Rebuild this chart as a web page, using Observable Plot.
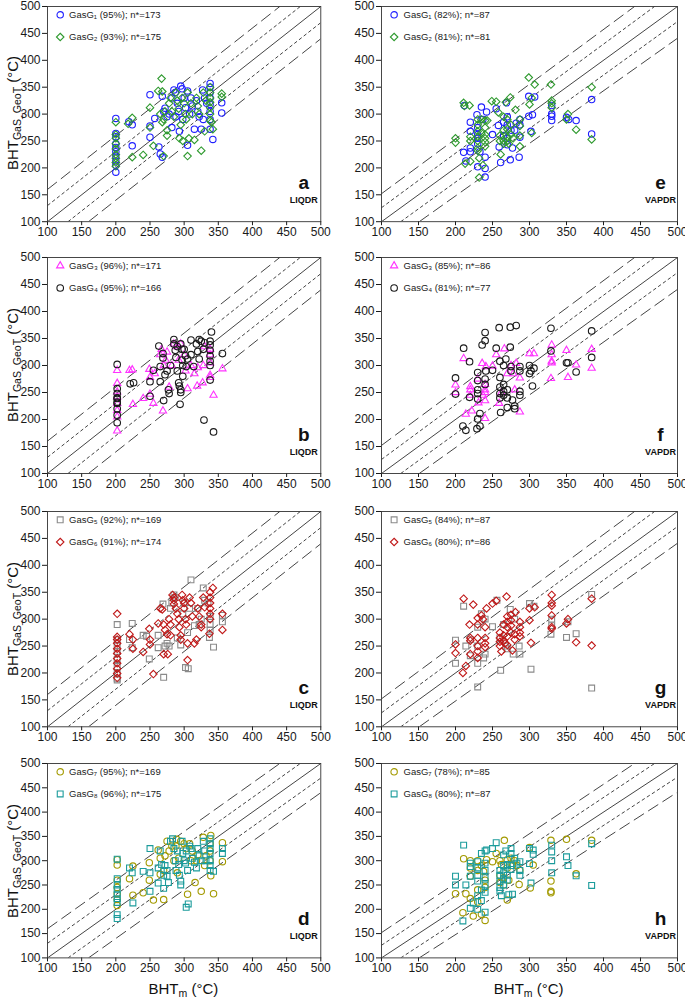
<!DOCTYPE html>
<html><head><meta charset="utf-8">
<script src="https://cdn.jsdelivr.net/npm/d3@7"></script>
<script src="https://cdn.jsdelivr.net/npm/@observablehq/plot@0.6"></script>
<style>
body{margin:0;background:#fff;font-family:"Liberation Sans",Arial,sans-serif;}
#wrap{position:relative;width:685px;height:999px;overflow:hidden;background:#fff;}
#wrap svg{position:absolute;max-width:none;}
.ytitle{position:absolute;white-space:nowrap;font-size:15px;color:#111;transform:translate(-50%,-50%) rotate(-90deg);line-height:16px;}
.xtitle{position:absolute;white-space:nowrap;font-size:15px;color:#111;transform:translateX(-50%);line-height:16px;}
sub{font-size:10.5px;vertical-align:-3px;line-height:0;}
</style></head><body><div id="wrap"></div>
<script>
// ---------- data ----------
const axisTicks = [100,150,200,250,300,350,400,450,500];
const seriesNames = ["GasG₁","GasG₂","GasG₃","GasG₄","GasG₅","GasG₆","GasG₇","GasG₈"];
const liqPct = [95,93,96,95,92,91,95,96];
const liqN   = [173,175,171,166,169,174,169,175];
const vapPct = [82,81,85,81,84,80,78,80];
const vapN   = [87,81,86,77,87,86,85,87];
const panelLetters = [["a","e"],["b","f"],["c","g"],["d","h"]];
const regimes = ["LIQDR","VAPDR"];
// guide lines [x1,y1,x2,y2]
const liqLong  = [[100,160,440,500],[160,100,500,440]];
const liqShort = [[100,130,470,500],[130,100,500,470]];
const vapLong  = [[100,152,442,500],[151,100,500,441]];
const vapShort = [[100,126,469,500],[126,100,500,472]];
const identityLine = [[100,100,500,500]];

const g1Liq = [[200,292],[200,264],[200,258],[200,245],[200,238],[200,230],[200,222],[200,213],[200,205],[200,192],[219,286],[224,280],[224,241],[250,336],[250,278],[250,257],[257,292],[263,239],[265,226],[268,220],[268,333],[272,311],[275,295],[278,300],[282,330],[285,345],[287,340],[290,320],[292,305],[293,268],[295,352],[297,347],[298,290],[300,330],[302,312],[305,343],[305,242],[308,300],[310,330],[312,315],[315,272],[318,325],[320,305],[322,295],[325,272],[327,345],[328,290],[330,330],[333,320],[338,357],[338,350],[338,340],[338,330],[338,318],[338,305],[338,290],[338,272],[342,253],[355,321],[355,302],[282,275],[270,305],[288,295]];
const g2Liq = [[200,285],[200,262],[200,255],[200,245],[200,235],[200,225],[200,218],[200,210],[200,203],[218,282],[224,293],[224,220],[240,224],[250,312],[250,275],[255,241],[262,343],[265,300],[267,366],[268,342],[268,285],[270,222],[270,290],[272,305],[275,270],[275,260],[278,320],[280,330],[282,305],[285,295],[288,340],[290,325],[292,310],[293,255],[295,280],[297,330],[298,250],[300,320],[302,300],[303,290],[305,340],[305,222],[307,255],[310,320],[312,300],[315,252],[318,330],[320,315],[322,300],[325,232],[328,340],[330,268],[332,325],[338,350],[338,340],[338,330],[338,322],[338,312],[338,300],[338,288],[340,285],[342,272],[355,338],[355,332]];
const g3Liq = [[202,291],[202,267],[202,251],[202,242],[202,230],[202,217],[202,205],[202,179],[220,291],[224,292],[225,228],[240,239],[249,293],[250,278],[250,247],[255,230],[257,285],[265,320],[267,330],[269,216],[270,300],[273,310],[278,260],[282,300],[285,340],[290,335],[295,340],[300,320],[302,290],[305,257],[310,300],[315,285],[319,262],[320,296],[327,268],[328,300],[330,335],[338,330],[338,320],[338,305],[338,282],[338,278],[343,245],[356,294],[292,310],[275,325]];
const g4Liq = [[202,302],[202,257],[202,248],[202,239],[202,230],[202,220],[202,208],[202,194],[202,240],[202,232],[221,266],[226,268],[250,270],[250,243],[255,291],[263,336],[265,298],[265,270],[270,235],[269,322],[269,314],[272,283],[275,290],[277,255],[278,248],[280,300],[285,348],[285,340],[287,328],[288,315],[290,335],[290,290],[292,268],[293,262],[294,228],[295,340],[297,330],[297,310],[298,300],[298,280],[295,255],[295,250],[300,330],[302,318],[303,298],[305,312],[310,347],[310,320],[314,298],[318,340],[320,326],[322,312],[322,348],[325,345],[328,330],[330,342],[329,199],[340,362],[338,345],[338,338],[338,328],[338,318],[338,308],[338,300],[338,273],[343,177],[356,322]];
const g5Liq = [[202,290],[202,262],[202,250],[202,240],[202,225],[202,212],[202,200],[202,190],[202,187],[220,262],[224,292],[224,247],[240,270],[245,268],[249,226],[262,270],[262,247],[269,328],[270,192],[272,250],[275,255],[278,250],[280,320],[282,330],[285,345],[287,340],[290,265],[295,252],[298,310],[300,330],[302,210],[306,208],[305,275],[308,320],[310,373],[315,288],[320,320],[322,290],[325,300],[328,358],[330,335],[335,330],[337,266],[338,290],[338,305],[338,280],[343,248],[356,295],[356,307]];
const g6Liq = [[202,310],[202,267],[202,262],[202,255],[202,245],[202,236],[202,227],[202,218],[202,208],[202,199],[202,191],[220,272],[225,262],[225,245],[240,239],[249,282],[250,262],[250,253],[255,198],[262,292],[265,320],[268,318],[270,235],[276,235],[270,290],[272,280],[275,272],[278,300],[280,290],[280,270],[283,345],[285,340],[285,335],[285,328],[288,320],[290,310],[292,300],[293,285],[295,270],[295,262],[297,345],[298,335],[300,330],[300,320],[302,300],[303,290],[305,255],[305,224],[308,340],[310,330],[312,305],[315,255],[318,262],[320,320],[322,305],[325,290],[325,285],[328,340],[330,322],[342,358],[338,350],[338,340],[338,330],[338,320],[338,310],[338,300],[337,273],[356,310],[356,280]];
const g7Liq = [[202,302],[202,291],[202,260],[202,245],[202,232],[202,220],[202,208],[220,263],[225,289],[225,229],[240,234],[249,296],[249,260],[255,219],[262,322],[265,305],[265,272],[270,220],[270,280],[272,310],[275,340],[278,320],[289,344],[282,330],[285,300],[288,330],[290,275],[292,305],[295,340],[300,335],[303,325],[305,231],[308,335],[310,300],[312,320],[316,255],[318,300],[320,312],[325,237],[328,348],[330,290],[332,310],[339,352],[339,269],[338,300],[338,320],[338,335],[343,232],[356,337],[356,298]];
const g8Liq = [[202,303],[202,263],[202,250],[202,241],[202,231],[202,222],[202,214],[202,189],[202,181],[220,285],[224,275],[225,213],[240,278],[250,325],[250,275],[250,237],[262,254],[262,285],[265,320],[267,292],[270,243],[270,270],[272,290],[275,280],[275,268],[277,255],[280,340],[283,345],[285,325],[287,300],[288,280],[290,320],[292,292],[293,270],[295,250],[295,258],[297,340],[298,315],[300,300],[302,295],[303,320],[303,204],[306,211],[305,280],[308,330],[310,325],[312,305],[315,297],[318,285],[320,325],[322,310],[325,300],[328,340],[330,320],[332,300],[338,345],[338,335],[338,325],[338,315],[338,300],[338,290],[338,280],[343,278],[356,325],[356,315]];

const g1Vap = [[212,316],[220,285],[220,268],[220,237],[220,230],[211,229],[214,213],[229,299],[230,275],[230,262],[230,255],[230,245],[230,202],[235,313],[242,304],[240,220],[240,199],[240,183],[237,290],[233,230],[250,262],[255,310],[258,279],[259,239],[261,210],[265,285],[265,260],[269,321],[270,295],[270,280],[270,255],[270,243],[274,215],[275,270],[277,237],[280,270],[282,283],[287,290],[287,280],[287,257],[286,220],[299,333],[299,296],[302,268],[304,299],[307,332],[330,316],[330,300],[330,296],[330,288],[350,294],[353,290],[363,288],[384,327],[384,263]];
const g2Vap = [[200,255],[200,247],[211,321],[212,315],[213,208],[219,316],[220,258],[220,250],[220,212],[230,290],[230,280],[230,268],[230,258],[230,250],[230,237],[230,232],[232,218],[232,182],[235,290],[235,265],[237,205],[240,288],[240,275],[240,262],[240,255],[240,248],[240,240],[243,288],[249,324],[255,323],[258,303],[260,260],[260,250],[261,225],[265,295],[265,270],[265,250],[265,245],[268,322],[270,290],[270,272],[270,258],[270,250],[272,245],[274,331],[275,280],[275,262],[278,255],[281,308],[287,290],[287,278],[287,260],[287,240],[299,368],[300,318],[303,330],[303,265],[307,355],[329,355],[330,325],[330,320],[330,312],[350,290],[352,300],[363,271],[384,350],[384,253]];
const g3Vap = [[200,264],[200,250],[211,313],[214,210],[220,261],[220,255],[220,245],[222,216],[230,275],[231,231],[236,304],[237,245],[240,265],[240,255],[240,250],[240,235],[240,202],[241,298],[250,299],[255,320],[262,250],[259,230],[266,331],[270,285],[275,300],[278,285],[280,255],[282,304],[287,277],[287,214],[300,322],[306,322],[330,338],[330,320],[330,308],[330,305],[329,276],[350,328],[352,278],[363,301],[384,330],[384,295]];
const g4Vap = [[200,277],[200,247],[211,332],[210,188],[214,180],[219,307],[219,241],[230,287],[230,272],[230,255],[230,248],[230,238],[229,183],[230,201],[233,211],[233,188],[236,338],[240,346],[240,361],[240,275],[240,265],[241,290],[250,291],[255,332],[259,370],[260,308],[260,278],[260,260],[260,248],[260,240],[261,213],[265,300],[265,265],[265,252],[265,245],[268,312],[270,255],[270,240],[270,222],[274,371],[274,334],[275,298],[275,290],[277,236],[280,225],[280,220],[282,374],[287,298],[287,290],[287,252],[287,245],[300,300],[300,285],[302,290],[304,262],[306,295],[329,369],[329,327],[350,305],[352,305],[363,288],[384,364],[384,315]];
const g5Vap = [[200,261],[200,218],[211,324],[214,250],[220,232],[220,262],[230,285],[230,250],[230,218],[230,174],[235,310],[238,228],[240,235],[240,300],[250,286],[256,335],[260,265],[261,205],[265,290],[268,250],[270,245],[274,318],[278,235],[280,300],[286,250],[287,235],[300,329],[302,207],[306,324],[330,300],[330,288],[329,272],[350,266],[352,295],[363,273],[384,346],[384,172]];
const g6Vap = [[200,253],[200,237],[211,338],[210,200],[214,213],[219,290],[220,265],[220,260],[220,235],[224,327],[230,302],[230,290],[230,265],[230,250],[230,240],[230,228],[235,307],[237,300],[240,285],[240,265],[240,255],[240,248],[242,320],[250,329],[255,334],[260,275],[260,265],[260,258],[260,250],[262,240],[265,290],[265,270],[265,260],[267,255],[269,342],[270,305],[270,295],[270,285],[270,268],[270,252],[275,308],[275,298],[275,288],[275,275],[277,242],[280,272],[280,262],[281,313],[287,295],[287,285],[287,275],[287,268],[300,320],[300,298],[302,256],[307,322],[330,345],[330,330],[330,325],[330,307],[330,285],[330,282],[350,292],[352,300],[363,257],[384,338],[384,251]];
const g7Vap = [[200,232],[211,304],[210,193],[214,232],[220,300],[220,285],[220,268],[220,222],[224,186],[230,300],[230,280],[230,240],[230,215],[235,190],[235,290],[238,278],[240,177],[240,260],[240,245],[242,302],[250,298],[255,315],[260,300],[260,270],[260,255],[262,292],[265,250],[265,265],[266,342],[270,219],[270,302],[270,285],[272,260],[275,305],[277,290],[280,300],[283,290],[286,251],[287,280],[300,327],[301,244],[305,291],[329,342],[329,258],[329,237],[329,234],[350,344],[363,273],[384,342]];
const g8Vap = [[200,268],[200,250],[211,332],[210,176],[214,250],[220,295],[220,288],[220,268],[220,202],[224,213],[230,298],[230,285],[230,270],[230,258],[230,228],[230,200],[235,315],[235,240],[235,218],[240,320],[240,295],[240,280],[240,265],[240,250],[240,235],[240,194],[242,322],[250,325],[255,337],[260,280],[260,270],[260,258],[260,245],[260,238],[262,228],[265,312],[265,290],[265,275],[265,262],[265,250],[268,320],[270,292],[270,270],[270,260],[272,230],[275,325],[275,315],[275,290],[275,282],[277,231],[280,305],[283,295],[287,298],[287,280],[287,270],[300,325],[300,294],[302,254],[305,322],[305,313],[330,332],[330,318],[330,300],[330,275],[350,308],[352,290],[363,269],[384,335],[384,249]];

const liqSeries = [g1Liq,g2Liq,g3Liq,g4Liq,g5Liq,g6Liq,g7Liq,g8Liq];
const vapSeries = [g1Vap,g2Vap,g3Vap,g4Vap,g5Vap,g6Vap,g7Vap,g8Vap];

// ---------- styles ----------
const diamondSym = {draw(ctx, size){ const h = Math.sqrt(size/2); ctx.moveTo(0,-h); ctx.lineTo(h,0); ctx.lineTo(0,h); ctx.lineTo(-h,0); ctx.closePath(); }};
const seriesStyle = [
  {color:"#1f1fff", symbol:"circle", r:3.2},
  {color:"#2f9a2f", symbol:diamondSym, r:3},
  {color:"#ff33ff", symbol:"triangle", r:2.7},
  {color:"#1a1a1a", symbol:"circle", r:3.3},
  {color:"#8a8a8a", symbol:"square", r:3.3},
  {color:"#c01818", symbol:diamondSym, r:3},
  {color:"#a39a00", symbol:"circle", r:3.2},
  {color:"#1c9c9c", symbol:"square", r:3.3}
];
const colLeft = [46.7, 380.7], colWidth = [273.3, 296];
const rowTop = [5.5, 257.3, 511, 763.3], rowH = [215.2, 216, 215.3, 194.4];
const mL = 42, mR = 9, mT = 7, mB = 26;
const legendDx = [[12.7, 21.6],[12.6, 22]];
const legendDy = [8.3, 30.5];

const wrap = document.getElementById("wrap");
const link = (arr, dash) => Plot.link(arr, {x1:d=>d[0], y1:d=>d[1], x2:d=>d[2], y2:d=>d[3], stroke:"#222", strokeWidth:0.85, strokeDasharray:dash, clip:true});

for (let row = 0; row < 4; row++) {
  for (let col = 0; col < 2; col++) {
    const idx = [row*2, row*2+1];
    const series = col === 0 ? liqSeries : vapSeries;
    const pct = col === 0 ? liqPct : vapPct;
    const nn = col === 0 ? liqN : vapN;
    const marks = [
      link(col === 0 ? liqLong : vapLong, "12,5"),
      link(col === 0 ? liqShort : vapShort, "3.5,2.5"),
      link(identityLine, null),
    ];
    idx.forEach(i => {
      const s = seriesStyle[i];
      marks.push(Plot.dot(series[i], {x:d=>d[0], y:d=>d[1], symbol:s.symbol, r:s.r, stroke:s.color, fill:"none", strokeWidth:1.1}));
    });
    idx.forEach((i, k) => {
      const s = seriesStyle[i];
      marks.push(Plot.dot([0], {frameAnchor:"top-left", dx:legendDx[col][0], dy:legendDy[k], symbol:s.symbol, r:s.r, stroke:s.color, fill:"none", strokeWidth:1.1}));
      marks.push(Plot.text([`${seriesNames[i]} (${pct[i]}%); n*=${nn[i]}`], {text:d=>d, frameAnchor:"top-left", dx:legendDx[col][1], dy:legendDy[k], textAnchor:"start", lineAnchor:"middle", fontSize:9.5, fill:"#1a1a1a"}));
    });
    marks.push(Plot.text([panelLetters[row][col]], {text:d=>d, frameAnchor:"bottom-right", dx:-17, dy:-38.5, textAnchor:"middle", lineAnchor:"middle", fontSize:19, fontWeight:"bold", fill:"#111"}));
    marks.push(Plot.text([regimes[col]], {text:d=>d, frameAnchor:"bottom-right", dx:-17, dy:-21.5, textAnchor:"middle", lineAnchor:"middle", fontSize:9, fontWeight:"bold", fill:"#111"}));
    marks.push(Plot.frame({stroke:"#333", strokeWidth:0.9}));

    const w = colWidth[col], h = rowH[row];
    const svg = Plot.plot({
      width: w + mL + mR, height: h + mT + mB,
      marginLeft: mL, marginRight: mR, marginTop: mT, marginBottom: mB,
      x: {domain:[100,500], ticks: axisTicks, tickSize:4, tickPadding:2, label:null},
      y: {domain:[100,500], ticks: axisTicks, tickSize:5, tickPadding:2, label:null},
      style: {fontFamily:"'Liberation Sans', Arial, sans-serif", fontSize:"12px", color:"#1a1a1a", background:"transparent", overflow:"visible"},
      marks
    });
    svg.style.left = (colLeft[col] - mL) + "px";
    svg.style.top = (rowTop[row] - mT) + "px";
    wrap.appendChild(svg);
  }
  const yt = document.createElement("div");
  yt.className = "ytitle";
  yt.innerHTML = "BHT<sub>GaS_GeoT</sub> (°C)";
  yt.style.left = "13px";
  yt.style.top = (rowTop[row] + rowH[row]/2) + "px";
  wrap.appendChild(yt);
}
for (let col = 0; col < 2; col++) {
  const xt = document.createElement("div");
  xt.className = "xtitle";
  xt.innerHTML = "BHT<sub>m</sub> (°C)";
  xt.style.left = (colLeft[col] + colWidth[col]/2) + "px";
  xt.style.top = "981px";
  wrap.appendChild(xt);
}
</script></body></html>
